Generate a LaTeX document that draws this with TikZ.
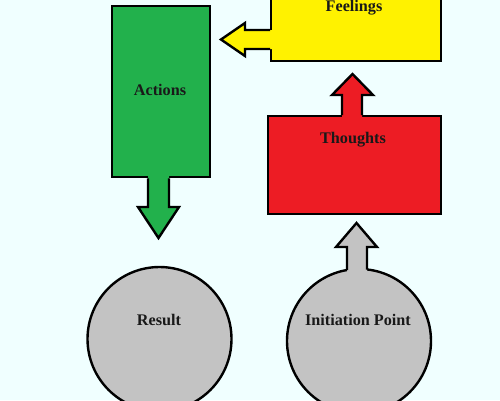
\documentclass[tikz,border=0pt]{standalone}
\usepackage{fontspec}
\setmainfont{Liberation Serif}
\definecolor{bgc}{HTML}{F0FFFF}
\definecolor{grn}{HTML}{22B14C}
\definecolor{rd}{HTML}{ED1C24}
\definecolor{yel}{HTML}{FFF200}
\definecolor{gry}{HTML}{C3C3C3}
\begin{document}
\begin{tikzpicture}[x=1pt,y=-1pt,
  outl/.style={draw=black,line width=2.4pt},
  rectbox/.style={outl,rectangle,inner sep=0pt,anchor=north west},
  circbox/.style={outl,circle,inner sep=0pt,minimum size=144pt,fill=gry},
  txt/.style={font=\bfseries\fontsize{16.2}{18}\selectfont,text=black!90,inner sep=0pt}]
\useasboundingbox[fill=bgc] (0,0) rectangle (500,400);
% Rectangles
\node[rectbox,fill=yel,minimum width=170pt,minimum height=90pt] (feelings) at (270,-30) {};
\node[rectbox,fill=grn,minimum width=98pt,minimum height=171pt] (actions) at (111,5) {};
\node[rectbox,fill=rd,minimum width=173pt,minimum height=98pt] (thoughts) at (267,115) {};
% Circles
\node[circbox] (result) at (159.5,339) {};
\node[circbox] (init) at (359,341) {};
% Arrows attached to shapes
\fill[yel] (272,30) -- (245,30) -- (245,23) -- (221,39.5) -- (245,56) -- (245,49) -- (272,49) -- cycle;
\draw[outl] (feelings.west |- 0,30) -- (245,30) -- (245,23) -- (221,39.5) -- (245,56) -- (245,49) -- (feelings.west |- 0,49);
\fill[grn] (148,174) -- (148,207) -- (138,207) -- (158.5,238) -- (179,207) -- (169,207) -- (169,174) -- cycle;
\draw[outl] (148,0 |- actions.south) -- (148,207) -- (138,207) -- (158.5,238) -- (179,207) -- (169,207) -- (169,0 |- actions.south);
\fill[rd] (342,117) -- (342,95) -- (332,95) -- (352.5,74) -- (373,95) -- (362,95) -- (362,117) -- cycle;
\draw[outl] (342,0 |- thoughts.north) -- (342,95) -- (332,95) -- (352.5,74) -- (373,95) -- (362,95) -- (362,0 |- thoughts.north);
\fill[gry] (347,275) -- (347,247) -- (336,247) -- (356.5,223) -- (377,247) -- (367,247) -- (367,275) -- cycle;
\draw[outl] (347,270) -- (347,247) -- (336,247) -- (356.5,223) -- (377,247) -- (367,247) -- (367,269.5);
% Labels
\node[txt] (feelingslabel) at (354,7.5) {Feelings};
\node[txt] (actionslabel) at (160,90) {Actions};
\node[txt] (thoughtslabel) at (353,140) {Thoughts};
\node[txt] (resultlabel) at (159,320) {Result};
\node[txt] (initlabel) at (358,320) {Initiation Point};
\end{tikzpicture}
\end{document}
